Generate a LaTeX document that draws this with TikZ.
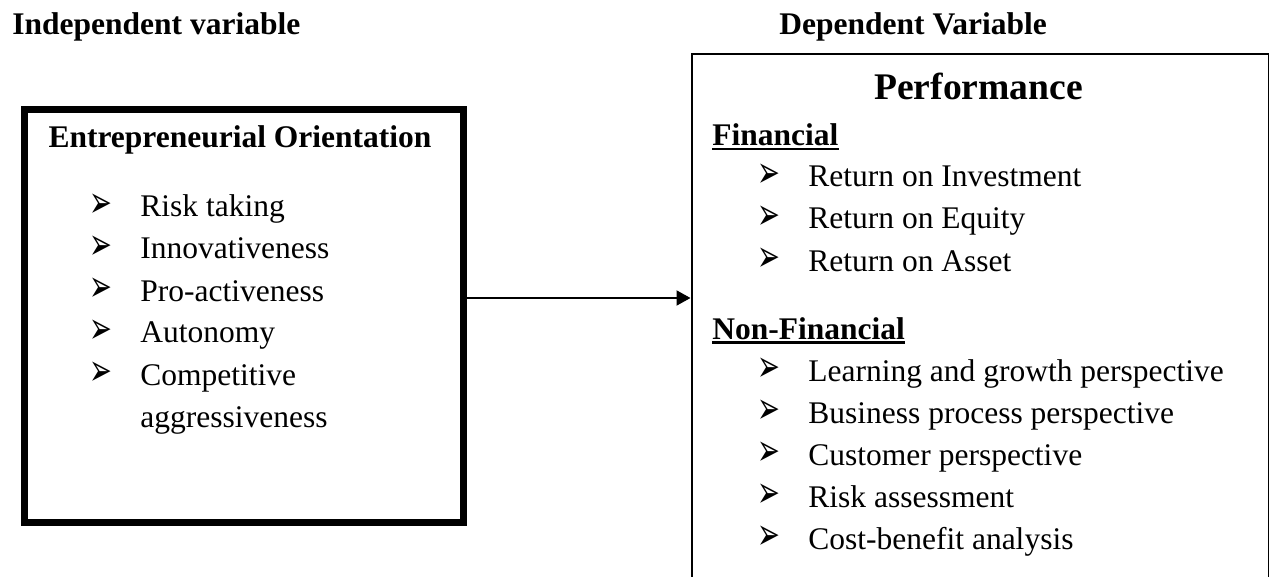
\documentclass[tikz,border=0pt]{standalone}
\usepackage{fontspec}
\usepackage{graphicx}
\setmainfont{Liberation Serif}
\newfontfamily\bulletfont{DejaVu Sans}
\usetikzlibrary{arrows.meta}
\newcommand{\arrowbullet}{\scalebox{1.05}[1.7]{\bulletfont ➢}}
\begin{document}
\begin{tikzpicture}[x=0.5pt,y=-0.5pt,
  txt/.style={inner sep=0pt, anchor=base west, font=\fontsize{15.75}{18}\selectfont},
  hdr/.style={inner sep=0pt, anchor=base west, font=\fontsize{15.75}{18}\selectfont\bfseries},
  ttl/.style={inner sep=0pt, anchor=base, font=\fontsize{18.8}{22}\selectfont\bfseries},
  blt/.style={inner sep=0pt, anchor=center, font=\fontsize{13}{13}\selectfont},
  ulined/.style={line width=1.3pt},
  thickbox/.style={draw, line width=3.5pt, inner sep=0pt},
  thinbox/.style={draw, line width=1.25pt, inner sep=0pt},
  arr/.style={line width=1pt, -{Triangle[length=7pt,width=7.5pt]}}
]
\useasboundingbox (0,0) rectangle (1269,577);

% headers
\node[hdr] (hi) at (12,35) {Independent variable};
\node[hdr] (hd) at (779,35) {Dependent Variable};

% boxes
\node[thickbox, minimum width=219.5pt, minimum height=206.25pt, anchor=north west] (ind) at (20.5,106.5) {};
\node[thinbox, minimum width=288.5pt, minimum height=275pt, anchor=north west] (dep) at (690.5,53) {};

% left box content
\node[ttl, font=\fontsize{15.75}{18}\selectfont\bfseries] (eo) at (240,148) {Entrepreneurial Orientation};
\foreach \y/\t [count=\i] in {217/Risk taking,259/Innovativeness,301/Pro-activeness,343/Autonomy,385/Competitive}{
  \node[blt] (lb\i) at (100.5,{\y-11}) {\arrowbullet};
  \node[txt] (li\i) at (140,\y) {\t};
}
\node[txt] (li6) at (140,427) {aggressiveness};

% right box content
\node[ttl] (perf) at (978.5,100) {Performance};
\node[hdr] (fin) at (712,145.5) {Financial};
\draw[ulined] ([yshift=-1.75pt]fin.base west) -- ([yshift=-1.75pt]fin.base east);
\foreach \y/\t [count=\i] in {187/Return on Investment,229/Return on Equity,271/Return on Asset}{
  \node[blt] (fb\i) at (769,{\y-11}) {\arrowbullet};
  \node[txt] (fi\i) at (808,\y) {\t};
}
\node[hdr] (nfin) at (712,339) {Non-Financial};
\draw[ulined] ([yshift=-1.75pt]nfin.base west) -- ([yshift=-1.75pt]nfin.base east);
\foreach \y/\t [count=\i] in {381/Learning and growth perspective,423/Business process perspective,465/Customer perspective,507/Risk assessment,549/Cost-benefit analysis}{
  \node[blt] (nb\i) at (769,{\y-11}) {\arrowbullet};
  \node[txt] (ni\i) at (808,\y) {\t};
}

% connector
\coordinate (ay) at (575,298);
\draw[arr] (ay -| ind.east) -- (ay -| dep.west);
\end{tikzpicture}
\end{document}
